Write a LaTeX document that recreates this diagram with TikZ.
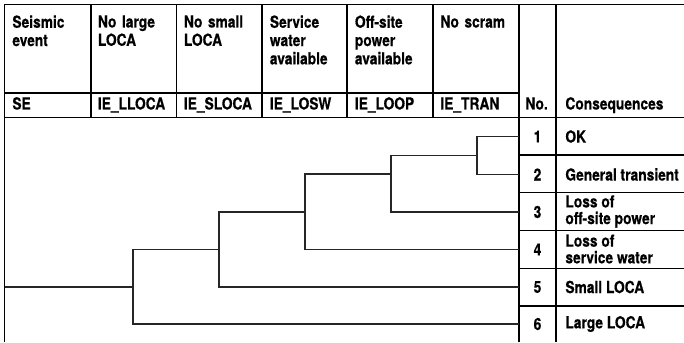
\documentclass[tikz,border=0pt]{standalone}
\usepackage{fontspec}
\setmainfont{TeX Gyre Heros}[FakeStretch=0.83,BoldFeatures={FakeBold=0.5}]
\begin{document}
\begin{tikzpicture}[x=0.5pt,y=-0.5pt,
		every node/.style={font=\fontsize{8.3}{9.15}\selectfont\bfseries,inner sep=0pt},
		hdr/.style={anchor=north west,text width=40pt,align=left},
		code/.style={anchor=base west},
		num/.style={minimum width=18.5pt},
		cons/.style={anchor=west,align=left,font=\fontsize{8.3}{8.35}\selectfont\bfseries},
		grid/.style={line width=0.75pt},
		tree/.style={line width=0.75pt,draw=black!85}]
			\useasboundingbox (0,0) rectangle (684,342);
			% table lines
			\draw[grid] (4.5,342) -- (4.5,4.5) -- (684,4.5);
			\draw[grid] (4.5,93) -- (519,93);
			\draw[grid] (4.5,117.5) -- (684,117.5);
			\foreach \x in {91,176.5,262,347,433}
				\draw[grid] (\x,4.5) -- (\x,117.5);
			\draw[grid] (519,4.5) -- (519,342);
			\draw[grid] (556,4.5) -- (556,342);
			\foreach \y in {155,192.5,230.5,268.5,306}
				\draw[grid] (519,\y) -- (684,\y);
			% headers
			\node[hdr] (h1) at (12,15) {Seismic\\event};
			\node[hdr] (h2) at (97.5,15) {No large\\LOCA};
			\node[hdr] (h3) at (183.5,15) {No small\\LOCA};
			\node[hdr] (h4) at (269.5,15) {Service\\water\\available};
			\node[hdr] (h5) at (354.5,15) {Off-site\\power\\available};
			\node[hdr] (h6) at (440,15) {No scram};
			\node[code] (e1) at (12,109.5) {SE};
			\node[code] (e2) at (97.5,109.5) {IE\_LLOCA};
			\node[code] (e3) at (183.5,109.5) {IE\_SLOCA};
			\node[code] (e4) at (269.5,109.5) {IE\_LOSW};
			\node[code] (e5) at (354.5,109.5) {IE\_LOOP};
			\node[code] (e6) at (440,109.5) {IE\_TRAN};
			\node[code] (no) at (525,109.5) {No.};
			\node[code] (cq) at (565,109.5) {Consequences};
			% end states
			\node[num] (n1) at (537.5,136.5) {1};
			\node[num] (n2) at (537.5,174.5) {2};
			\node[num] (n3) at (537.5,212) {3};
			\node[num] (n4) at (537.5,249.5) {4};
			\node[num] (n5) at (537.5,287) {5};
			\node[num] (n6) at (537.5,324) {6};
			\node[cons] (q1) at (565,136.5) {OK};
			\node[cons] (q2) at (565,174.5) {General transient};
			\node[cons] (q3) at (565,211.5) {Loss of\\off-site power};
			\node[cons] (q4) at (565,249) {Loss of\\service water};
			\node[cons] (q5) at (565,287) {Small LOCA};
			\node[cons] (q6) at (565,324) {Large LOCA};
			% event tree
			\coordinate (s) at (4.5,287);
			\coordinate (b1) at (133,287);
			\coordinate (b2) at (219,249.5);
			\coordinate (b3) at (305,212);
			\coordinate (b4) at (391,174);
			\coordinate (b5) at (477,155.5);
			\draw[tree] (s) -- (b1);
			\draw[tree] (b2) -| (b1) |- (n6.west);
			\draw[tree] (b3) -| (b2) |- (n5.west);
			\draw[tree] (b4) -| (b3) |- (n4.west);
			\draw[tree] (b5) -| (b4) |- (n3.west);
			\draw[tree] (n1.west) -| (b5) |- (n2.west);
		\end{tikzpicture}
\end{document}
